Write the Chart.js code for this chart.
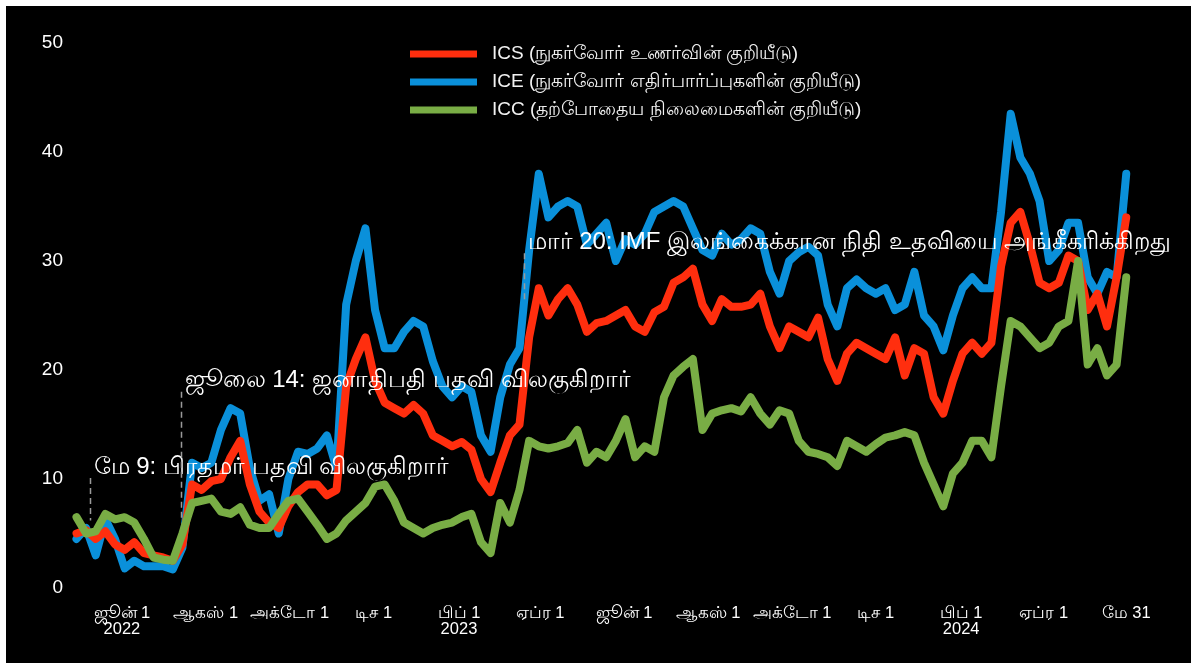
<!DOCTYPE html>
<html lang="ta">
<head>
<meta charset="UTF-8">
<title>இலங்கை நுகர்வோர் நம்பிக்கைக் குறியீடுகள்</title>
<script src="https://cdn.jsdelivr.net/npm/chart.js@4.4.1/dist/chart.umd.min.js"></script>
<style>
    body {
        margin: 0;
        background: #fff;
        font-family: "Liberation Sans", Arial, sans-serif;
    }
    #box {
        position: absolute;
        left: 6px;
        top: 6px;
        width: 1185px;
        height: 657px;
        background: #000;
    }
</style>
</head>
<body>
<div id="box"><canvas id="chart"></canvas></div>
<script>
// weekly readings, 29 Apr 2022 .. 31 May 2024
const dates = [
    '2022-04-29','2022-05-06','2022-05-13','2022-05-20','2022-05-27','2022-06-03','2022-06-10','2022-06-17','2022-06-24','2022-07-01',
    '2022-07-08','2022-07-15','2022-07-22','2022-07-29','2022-08-05','2022-08-12','2022-08-19','2022-08-26','2022-09-02','2022-09-09',
    '2022-09-16','2022-09-23','2022-09-30','2022-10-07','2022-10-14','2022-10-21','2022-10-28','2022-11-04','2022-11-11','2022-11-18',
    '2022-11-25','2022-12-02','2022-12-09','2022-12-16','2022-12-23','2022-12-30','2023-01-06','2023-01-13','2023-01-20','2023-01-27',
    '2023-02-03','2023-02-10','2023-02-17','2023-02-24','2023-03-03','2023-03-10','2023-03-17','2023-03-24','2023-03-31','2023-04-07',
    '2023-04-14','2023-04-21','2023-04-28','2023-05-05','2023-05-12','2023-05-19','2023-05-26','2023-06-02','2023-06-09','2023-06-16',
    '2023-06-23','2023-06-30','2023-07-07','2023-07-14','2023-07-21','2023-07-28','2023-08-04','2023-08-11','2023-08-18','2023-08-25',
    '2023-09-01','2023-09-08','2023-09-15','2023-09-22','2023-09-29','2023-10-06','2023-10-13','2023-10-20','2023-10-27','2023-11-03',
    '2023-11-10','2023-11-17','2023-11-24','2023-12-01','2023-12-08','2023-12-15','2023-12-22','2023-12-29','2024-01-05','2024-01-12',
    '2024-01-19','2024-01-26','2024-02-02','2024-02-09','2024-02-16','2024-02-23','2024-03-01','2024-03-08','2024-03-15','2024-03-22',
    '2024-03-29','2024-04-05','2024-04-12','2024-04-19','2024-04-26','2024-05-03','2024-05-10','2024-05-17','2024-05-24','2024-05-31'
];

const ics = [
    5.0, 5.3, 4.5, 5.2, 4.0, 3.5, 4.2, 3.2, 3.0, 2.8,
    2.5, 4.0, 9.5, 9.0, 9.8, 10.0, 12.0, 13.5, 9.5, 7.0,
    6.0, 5.5, 7.5, 8.8, 9.5, 9.5, 8.5, 9.0, 18.5, 21.0,
    23.0, 19.0, 17.0, 16.5, 16.0, 16.8, 16.0, 14.0, 13.5, 13.0,
    13.4, 12.7, 10.0, 8.8, 11.5, 14.0, 15.0, 23.0, 27.5, 25.0,
    26.5, 27.5, 26.0, 23.5, 24.3, 24.5, 25.0, 25.5, 24.0, 23.5,
    25.3, 25.8, 28.0, 28.5, 29.3, 26.0, 24.5, 26.5, 25.8, 25.8,
    26.0, 27.0, 24.0, 22.0, 24.0, 23.5, 23.0, 24.8, 21.0, 19.0,
    21.5, 22.5, 22.0, 21.5, 21.0, 23.0, 19.5, 22.0, 21.5, 17.5,
    16.0, 19.0, 21.5, 22.5, 21.5, 22.5, 29.5, 33.5, 34.5, 31.5,
    28.0, 27.5, 28.0, 30.5, 30.0, 25.5, 27.0, 24.0, 28.5, 34.0
];

const ice = [
    4.5, 5.5, 3.0, 6.3, 4.5, 1.8, 2.5, 2.0, 2.0, 2.0,
    1.7, 3.7, 11.5, 11.0, 11.5, 14.5, 16.5, 16.0, 11.0, 8.0,
    8.6, 5.0, 10.0, 12.5, 12.3, 12.8, 14.0, 11.0, 26.0, 30.0,
    33.0, 25.5, 22.0, 22.0, 23.5, 24.5, 24.0, 20.8, 18.5, 17.5,
    18.5, 18.0, 14.0, 12.5, 17.5, 20.5, 22.0, 31.0, 38.0, 34.0,
    35.0, 35.5, 35.0, 31.5, 32.5, 33.5, 30.0, 32.0, 31.5, 32.5,
    34.5, 35.0, 35.5, 35.0, 33.0, 31.0, 30.5, 32.5, 31.5, 32.0,
    33.0, 32.5, 29.0, 27.0, 30.0, 30.8, 31.3, 30.5, 26.0, 24.0,
    27.5, 28.3, 27.5, 27.0, 27.5, 25.5, 26.0, 29.0, 25.0, 24.0,
    21.8, 25.0, 27.5, 28.5, 27.5, 27.5, 34.5, 43.5, 39.5, 38.0,
    35.5, 30.0, 31.0, 33.5, 33.5, 28.5, 27.0, 29.0, 28.5, 38.0
];

const icc = [
    6.5, 5.0, 5.2, 6.8, 6.3, 6.5, 6.0, 4.5, 2.8, 2.6,
    2.5, 5.0, 7.8, 8.0, 8.2, 7.0, 6.8, 7.4, 5.8, 5.5,
    5.5, 6.8, 8.0, 8.2, 7.0, 5.8, 4.5, 5.0, 6.2, 7.0,
    7.8, 9.3, 9.5, 8.0, 6.0, 5.5, 5.0, 5.5, 5.8, 6.0,
    6.5, 6.8, 4.2, 3.2, 7.8, 6.0, 9.0, 13.5, 13.0, 12.8,
    13.0, 13.3, 14.5, 11.5, 12.5, 12.0, 13.5, 15.5, 12.0, 13.0,
    12.5, 17.5, 19.5, 20.3, 21.0, 14.5, 16.0, 16.3, 16.5, 16.2,
    17.5, 16.0, 15.0, 16.3, 16.0, 13.5, 12.5, 12.3, 12.0, 11.2,
    13.5, 13.0, 12.5, 13.2, 13.8, 14.0, 14.3, 14.0, 11.5, 9.5,
    7.5, 10.5, 11.5, 13.5, 13.5, 12.0, 18.5, 24.5, 24.0, 23.0,
    22.0, 22.5, 24.0, 24.5, 30.0, 20.5, 22.0, 19.5, 20.5, 28.5
];

const seriesNames = [
    'ICS (நுகர்வோர் உணர்வின் குறியீடு)',
    'ICE (நுகர்வோர் எதிர்பார்ப்புகளின் குறியீடு)',
    'ICC (தற்போதைய நிலைமைகளின் குறியீடு)'
];
const seriesColors = ['#ff2e0e', '#0a90da', '#79ad45'];

const tickDates = ['2022-06-01','2022-08-01','2022-10-01','2022-12-01','2023-02-01','2023-04-01','2023-06-01',
    '2023-08-01','2023-10-01','2023-12-01','2024-02-01','2024-04-01','2024-05-31'];
const tickLabels = ['ஜூன் 1','ஆகஸ் 1','அக்டோ 1','டிச 1','பிப் 1','ஏப்ர 1','ஜூன் 1',
    'ஆகஸ் 1','அக்டோ 1','டிச 1','பிப் 1','ஏப்ர 1','மே 31'];
const tickYears = ['2022','','','','2023','','','','','','2024','',''];

const eventDates = ['2022-05-09', '2022-07-14', '2023-03-20'];
const eventTop = [10.1, 18, 30.7];
const eventBottom = [6.2, 6.2, 26.4];
const eventLabels = [
    'மே 9: பிரதமர் பதவி விலகுகிறார்',
    'ஜூலை 14: ஜனாதிபதி பதவி விலகுகிறார்',
    'மார் 20: IMF இலங்கைக்கான நிதி உதவியை அங்கீகரிக்கிறது'
];

const xStart = '2022-04-25', xEnd = '2024-06-10';

function day(s)
{
    return Date.parse(s) / 86400000;
}

function points(values)
{
    return values.map((v, i) => ({ x: day(dates[i]), y: v }));
}

const fontFamily = '"Liberation Sans", Arial, sans-serif';

const overlay = {
    id: 'overlay',
    afterDatasetsDraw(chart)
    {
        const c = chart.ctx;
        const xs = chart.scales.x, ys = chart.scales.y;
        c.save();

        // event markers
        for (let i = 0; i < eventDates.length; i++)
        {
            const px = Math.round(xs.getPixelForValue(day(eventDates[i]))) + 0.5;
            const top = ys.getPixelForValue(eventTop[i]);
            const bottom = ys.getPixelForValue(eventBottom[i]);
            c.strokeStyle = '#9a9a9a';
            c.lineWidth = 1.5;
            c.setLineDash([6, 4]);
            c.beginPath();
            c.moveTo(px, top);
            c.lineTo(px, bottom);
            c.stroke();
            c.setLineDash([]);
            c.fillStyle = '#ffffff';
            c.font = '24px ' + fontFamily;
            c.textBaseline = 'bottom';
            c.textAlign = 'left';
            c.fillText(eventLabels[i], px + 3, top + 1);
        }

        // legend
        c.font = '19px ' + fontFamily;
        c.textBaseline = 'middle';
        for (let i = 0; i < seriesNames.length; i++)
        {
            const y = 48 + i * 28;
            c.fillStyle = seriesColors[i];
            c.fillRect(404, y - 3.5, 67, 7);
            c.fillStyle = '#f2f2f2';
            c.fillText(seriesNames[i], 486, y);
        }
        c.restore();
    }
};

const series = [ics, ice, icc];

new Chart(document.getElementById('chart'), {
    type: 'line',
    data: {
        datasets: series.map((s, i) => ({
            label: seriesNames[i],
            data: points(s),
            borderColor: seriesColors[i],
            backgroundColor: seriesColors[i],
            borderWidth: 8,
            pointRadius: 0,
            tension: 0,
            borderJoinStyle: 'round',
            borderCapStyle: 'round',
            order: [1, 2, 0][i]
        }))
    },
    options: {
        responsive: true,
        maintainAspectRatio: false,
        animation: false,
        layout: { padding: { top: 37, right: 51, left: 0, bottom: 0 } },
        plugins: {
            legend: { display: false },
            tooltip: { enabled: false }
        },
        scales: {
            x: {
                type: 'linear',
                min: day(xStart),
                max: day(xEnd),
                grid: { display: false, drawTicks: false },
                border: { display: false },
                afterBuildTicks(scale)
                {
                    scale.ticks = tickDates.map(d => ({ value: day(d) }));
                },
                afterFit(scale)
                {
                    scale.height = 75;
                },
                ticks: {
                    autoSkip: false,
                    maxRotation: 0,
                    padding: 17,
                    color: '#ffffff',
                    font: { family: fontFamily, size: 16.5, lineHeight: 1.0 },
                    callback(value)
                    {
                        const i = tickDates.findIndex(d => Math.abs(day(d) - value) < 0.5);
                        if (i < 0) return '';
                        return tickYears[i] ? [tickLabels[i], tickYears[i]] : tickLabels[i];
                    }
                }
            },
            y: {
                min: 0,
                max: 50,
                grid: { display: false, drawTicks: false },
                border: { display: false },
                afterFit(scale)
                {
                    scale.width = 65;
                },
                ticks: {
                    stepSize: 10,
                    padding: 8,
                    color: '#ffffff',
                    font: { family: fontFamily, size: 19 }
                }
            }
        }
    },
    plugins: [overlay]
});
</script>
</body>
</html>
